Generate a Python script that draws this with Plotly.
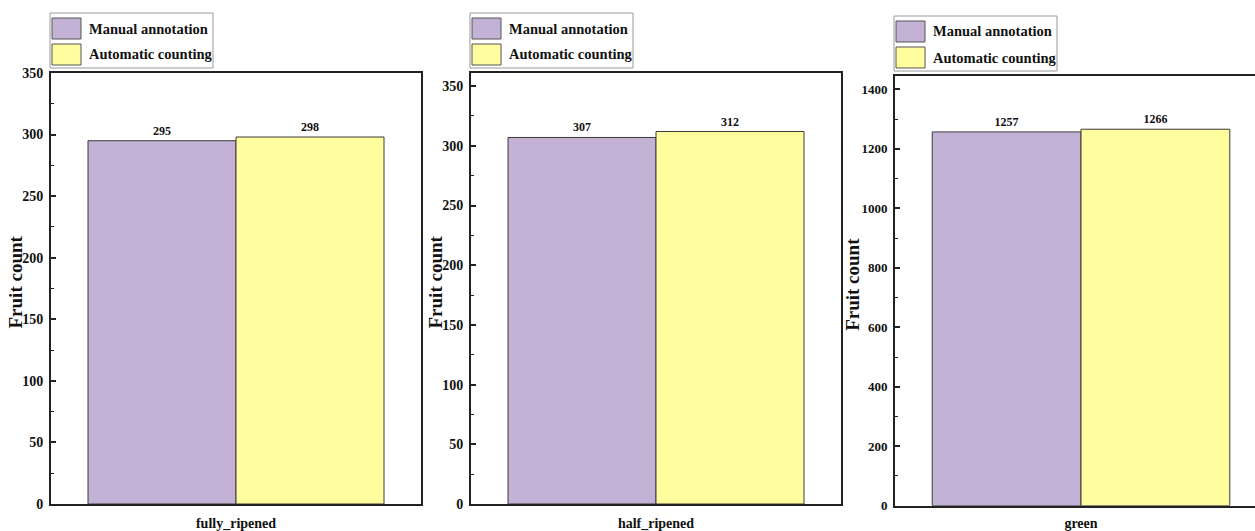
import plotly.graph_objects as go

# ---------------- data ----------------
categories = ["fully_ripened", "half_ripened", "green"]
series_names = ["Manual annotation", "Automatic counting"]
manual_counts = [295, 307, 1257]
automatic_counts = [298, 312, 1266]
y_axis_title = "Fruit count"

# ---------------- styling / layout ----------------
W, H = 1255, 531
FONT = "Liberation Serif, Times New Roman, serif"
colors = ["#C3B2D6", "#FFFD9E"]
y_ranges = [[0, 350], [0, 361], [0, 1445]]
y_dticks = [50, 50, 200]
ytick_sizes = [14, 14, 13]
title_offsets = [36, 36, 42]
# plot areas in pixels: (left, right, top, bottom)
panels_px = [(51, 421, 73, 504), (471, 841, 73, 504), (895, 1267, 76, 505.7)]

fig = go.Figure()

for i, cat in enumerate(categories):
    ax = "" if i == 0 else str(i + 1)
    for s, (name, vals) in enumerate(zip(series_names, [manual_counts, automatic_counts])):
        fig.add_trace(go.Bar(
            x=[cat], y=[vals[i]], name=name,
            marker=dict(color=colors[s], line=dict(color="#3a3a3a", width=1)),
            text=[vals[i]], texttemplate="%{y}", textposition="outside",
            textfont=dict(family=FONT, size=12, color="#111", weight="bold"),
            cliponaxis=False,
            xaxis="x" + ax, yaxis="y" + ax, showlegend=False,
        ))

layout = dict(
    width=W, height=H,
    margin=dict(l=0, r=0, t=0, b=0, pad=0, autoexpand=False),
    paper_bgcolor="white", plot_bgcolor="white",
    barmode="group", bargap=0.2, bargroupgap=0,
    font=dict(family=FONT, color="#111"),
    showlegend=False,
)

shapes = []
annotations = []
for i in range(3):
    ax = "" if i == 0 else str(i + 1)
    L, R, T, B = panels_px[i]
    xd1 = min(R / W, 1.0)
    visible_w = xd1 * W - L
    xr = [-0.5, -0.5 + visible_w / (R - L)]
    layout["xaxis" + ax] = dict(
        domain=[L / W, xd1], range=xr, anchor="y" + ax, automargin=False,
        showline=True, linecolor="#222", linewidth=1.8, mirror=True,
        ticks="", showgrid=False, zeroline=False,
        tickfont=dict(family=FONT, size=14, color="#111", weight="bold"),
        ticklabelstandoff=5 if i < 2 else 4,
    )
    layout["yaxis" + ax] = dict(
        domain=[(H - B) / H, (H - T) / H], range=y_ranges[i], anchor="x" + ax,
        automargin=False,
        showline=True, linecolor="#222", linewidth=1.8, mirror=(i < 2),
        ticks="inside", ticklen=5, tickwidth=1.5, tickcolor="#222",
        dtick=y_dticks[i], tick0=0,
        minor=dict(ticks="inside", ticklen=3, tickwidth=1.2, tickcolor="#222",
                   dtick=y_dticks[i] / 2, showgrid=False),
        showgrid=False, zeroline=False,
        tickfont=dict(family=FONT, size=ytick_sizes[i], color="#111", weight="bold"),
        ticklabelstandoff=3,
    )
    # y-axis title
    annotations.append(dict(
        text=y_axis_title, textangle=-90, showarrow=False,
        xref="paper", yref="paper",
        x=(L - title_offsets[i]) / W, y=(H - (T + B) / 2 + 6) / H,
        xanchor="center", yanchor="middle",
        font=dict(family=FONT, size=19, color="#111", weight="bold"),
    ))

    # legend box (per panel), positioned relative to plot's top-left corner
    def px(xp, yp):
        return (L + xp) / W, (H - (T + yp)) / H

    bx0, by0 = px(-1, -5)
    bx1, by1 = px(162, -60)
    shapes.append(dict(type="rect", xref="paper", yref="paper",
                       x0=bx0, y0=by0, x1=bx1, y1=by1,
                       line=dict(color="#9a9a9a", width=1), fillcolor="white"))
    for s, name in enumerate(series_names):
        top = -55 + s * 26
        sx0, sy0 = px(1, top + 21)
        sx1, sy1 = px(30, top)
        shapes.append(dict(type="rect", xref="paper", yref="paper",
                           x0=sx0, y0=sy0, x1=sx1, y1=sy1,
                           line=dict(color="#555", width=1), fillcolor=colors[s]))
        tx, ty = px(36, top + 10.5)
        annotations.append(dict(
            text=name, showarrow=False, xref="paper", yref="paper",
            x=tx, y=ty, xanchor="left", yanchor="middle",
            font=dict(family=FONT, size=14.5, color="#111", weight="bold"),
        ))

layout["shapes"] = shapes
layout["annotations"] = annotations
fig.update_layout(**layout)

fig.write_html("out.html")
